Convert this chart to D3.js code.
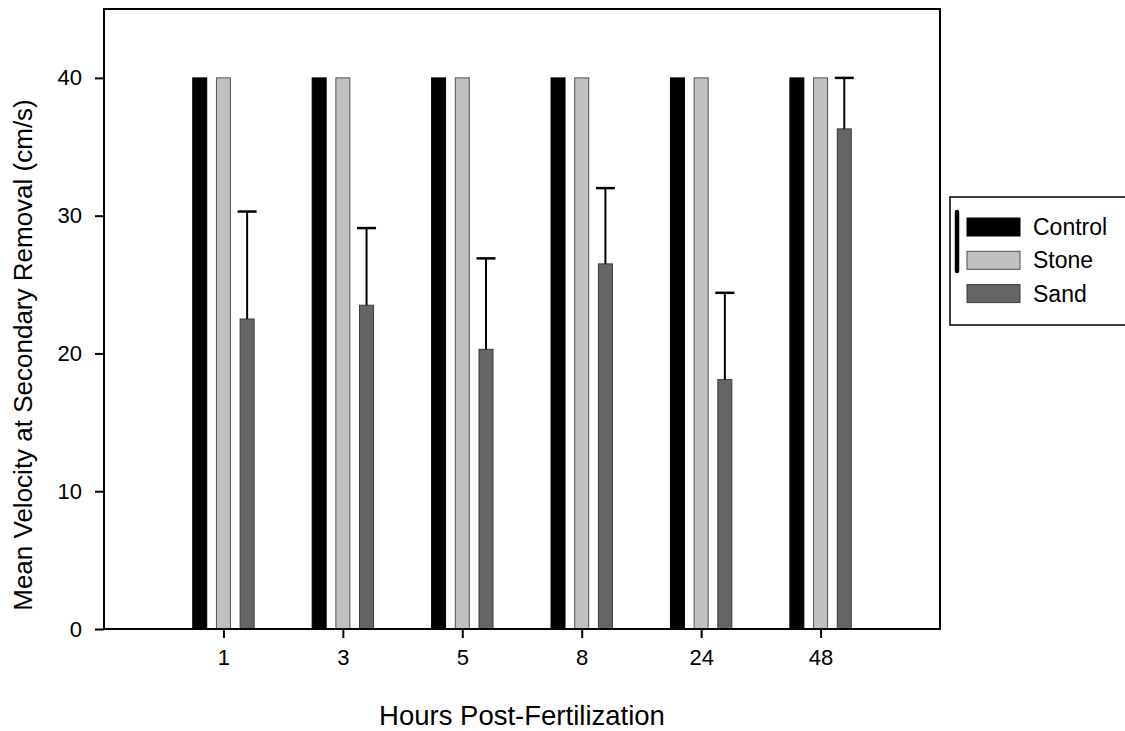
<!DOCTYPE html>
<html><head><meta charset="utf-8">
<script src="https://cdn.jsdelivr.net/npm/d3@7"></script>
<style>
html,body{margin:0;padding:0;background:#fff;overflow:hidden;}
text{font-family:"Liberation Sans",Arial,sans-serif;fill:#000;}
</style></head>
<body>
<svg id="chart" width="1125" height="731"></svg>
<script>
const hours = ["1","3","5","8","24","48"];
const seriesNames = ["Control","Stone","Sand"];
const controlValues = [40,40,40,40,40,40];
const stoneValues = [40,40,40,40,40,40];
const sandValues = [22.5,23.5,20.3,26.5,18.1,36.3];
const sandErrorTop = [30.3,29.1,26.9,32.0,24.4,40.0];
const yTicks = [0,10,20,30,40];

const fills = {Control:"#000000", Stone:"#c0c0c0", Sand:"#656565"};
const strokes = {Control:"#000000", Stone:"#505050", Sand:"#3a3a3a"};
const valuesBySeries = {Control:controlValues, Stone:stoneValues, Sand:sandValues};

const svg = d3.select("#chart");
const L = 104, R = 940, T = 9, B = 629;

const x = d3.scalePoint().domain(hours).range([L, R]).padding(1);
const sub = d3.scalePoint().domain(seriesNames).range([-23.7, 23.7]);
const y = d3.scaleLinear().domain([0, 45]).range([B, T]);
const barW = 14;

// bars
const g = svg.append("g");
seriesNames.forEach(s => {
  g.selectAll(null).data(hours).enter().append("rect")
    .attr("x", (h) => x(h) + sub(s) - barW/2)
    .attr("y", (h,i) => y(valuesBySeries[s][i]))
    .attr("width", barW)
    .attr("height", (h,i) => y(0) - y(valuesBySeries[s][i]))
    .attr("fill", fills[s])
    .attr("stroke", strokes[s])
    .attr("stroke-width", 1);
});

// error bars (Sand)
const eb = svg.append("g").attr("stroke", "#000").attr("stroke-width", 2);
hours.forEach((h,i) => {
  const cx = x(h) + sub("Sand");
  eb.append("line").attr("x1", cx).attr("x2", cx)
    .attr("y1", y(sandValues[i])).attr("y2", y(sandErrorTop[i]));
  eb.append("line").attr("x1", cx - 9.5).attr("x2", cx + 9.5)
    .attr("y1", y(sandErrorTop[i])).attr("y2", y(sandErrorTop[i]))
    .attr("stroke-width", 2.5);
});

// axes
const yAxis = svg.append("g").attr("transform", `translate(${L},0)`)
  .call(d3.axisLeft(y).tickValues(yTicks).tickSize(9).tickPadding(13).tickFormat(d3.format("d")));
yAxis.select(".domain").remove();
yAxis.selectAll("line").attr("stroke", "#000").attr("stroke-width", 2);
yAxis.selectAll("text").style("font-size", "22px").style("font-family", '"Liberation Sans",Arial,sans-serif');

const xAxis = svg.append("g").attr("transform", `translate(0,${B})`)
  .call(d3.axisBottom(x).tickSize(9).tickPadding(11));
xAxis.select(".domain").remove();
xAxis.selectAll("line").attr("stroke", "#000").attr("stroke-width", 2);
xAxis.selectAll("text").style("font-size", "22px").style("font-family", '"Liberation Sans",Arial,sans-serif');

// frame
svg.append("rect").attr("x", L).attr("y", T).attr("width", R - L).attr("height", B - T)
  .attr("fill", "none").attr("stroke", "#000").attr("stroke-width", 2);

// titles
svg.append("text").attr("x", (L + R) / 2).attr("y", 725)
  .attr("text-anchor", "middle").style("font-size", "27.5px")
  .text("Hours Post-Fertilization");
svg.append("text").attr("transform", "translate(32,355) rotate(-90)")
  .attr("text-anchor", "middle").style("font-size", "26px")
  .text("Mean Velocity at Secondary Removal (cm/s)");

// legend
const lg = svg.append("g");
lg.append("rect").attr("x", 950).attr("y", 197).attr("width", 200).attr("height", 128)
  .attr("fill", "#fff").attr("stroke", "#000").attr("stroke-width", 1.5);
lg.append("line").attr("x1", 957).attr("x2", 957).attr("y1", 212).attr("y2", 271)
  .attr("stroke", "#000").attr("stroke-width", 4.5).attr("stroke-linecap", "round");
seriesNames.forEach((s, i) => {
  const base = 235 + i * 33.3;
  lg.append("rect").attr("x", 967).attr("y", base - 17).attr("width", 53).attr("height", 18)
    .attr("fill", fills[s]).attr("stroke", strokes[s]).attr("stroke-width", 1);
  lg.append("text").attr("x", 1033).attr("y", base).style("font-size", "23px").text(s);
});
</script>
</body></html>
